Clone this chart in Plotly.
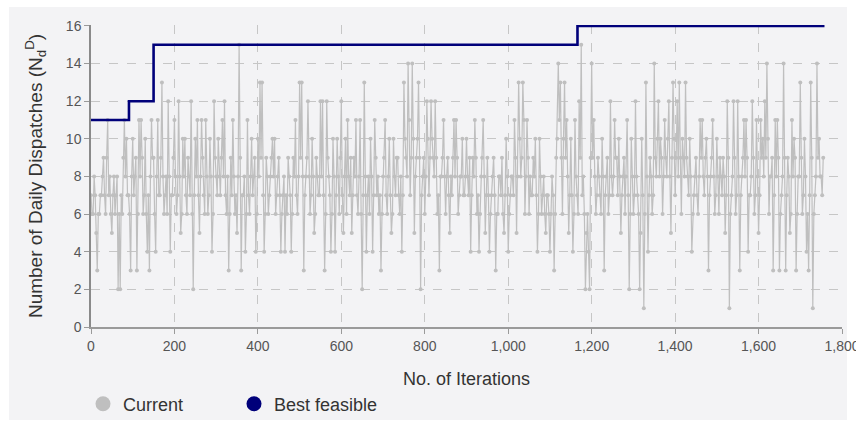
import plotly.graph_objects as go

# Current solution is logged every 2.5 iterations
STEP = 2.5

# Number of daily dispatches of the current solution, one value per log entry
current = [
    7, 6, 6, 8, 7, 5, 3, 6, 6, 7, 7, 8, 9, 7, 6, 9, 11, 7, 8, 6,
    5, 7, 8, 6, 7, 8, 2, 6, 2, 7, 6, 9, 11, 8, 10, 7, 7, 6, 3, 8,
    10, 7, 8, 9, 3, 6, 11, 8, 11, 9, 6, 7, 10, 6, 4, 7, 3, 8, 11, 9,
    9, 6, 4, 8, 11, 7, 7, 9, 13, 8, 6, 7, 8, 6, 12, 8, 4, 7, 7, 9,
    11, 8, 6, 7, 12, 8, 5, 6, 10, 8, 10, 7, 6, 9, 8, 7, 12, 6, 2, 7,
    10, 8, 11, 7, 5, 8, 11, 9, 7, 6, 11, 8, 6, 7, 10, 8, 4, 6, 12, 9,
    8, 7, 10, 8, 7, 9, 11, 8, 12, 7, 6, 8, 3, 6, 9, 7, 11, 8, 6, 7,
    5, 8, 15, 9, 3, 7, 7, 8, 4, 6, 11, 7, 6, 8, 10, 7, 8, 9, 4, 6,
    10, 8, 13, 9, 13, 7, 4, 6, 9, 8, 6, 7, 8, 9, 10, 8, 10, 6, 7, 8,
    9, 7, 4, 6, 7, 8, 4, 7, 6, 9, 8, 7, 4, 6, 9, 8, 11, 7, 6, 8,
    13, 9, 13, 8, 3, 7, 8, 9, 12, 8, 6, 7, 10, 8, 5, 6, 9, 8, 7, 7,
    12, 8, 12, 7, 3, 6, 12, 9, 8, 7, 4, 6, 10, 8, 4, 7, 10, 8, 6, 9,
    12, 7, 5, 8, 10, 6, 11, 8, 7, 9, 5, 7, 9, 8, 11, 7, 6, 8, 11, 6,
    2, 7, 13, 8, 4, 7, 8, 6, 10, 8, 4, 7, 11, 9, 7, 8, 6, 7, 3, 6,
    8, 9, 11, 7, 6, 8, 10, 7, 5, 6, 10, 8, 7, 9, 9, 7, 6, 8, 4, 7,
    13, 10, 9, 8, 14, 11, 7, 9, 14, 10, 5, 8, 9, 10, 13, 9, 2, 7, 8, 9,
    6, 8, 12, 10, 7, 9, 12, 10, 9, 8, 12, 9, 6, 7, 3, 8, 8, 9, 11, 8,
    6, 8, 9, 7, 5, 8, 7, 9, 11, 8, 11, 9, 6, 7, 8, 8, 10, 7, 7, 8,
    10, 8, 7, 9, 4, 7, 9, 8, 11, 9, 6, 7, 4, 6, 8, 9, 11, 8, 5, 7,
    9, 7, 4, 6, 7, 8, 9, 7, 3, 6, 6, 8, 8, 7, 9, 6, 5, 7, 10, 8,
    4, 6, 7, 8, 8, 7, 11, 9, 5, 8, 13, 10, 8, 9, 13, 11, 6, 8, 11, 9,
    6, 8, 7, 7, 9, 8, 10, 7, 4, 6, 10, 8, 6, 7, 8, 6, 5, 7, 7, 6,
    4, 6, 8, 7, 3, 6, 9, 10, 14, 11, 13, 9, 6, 10, 13, 9, 11, 8, 5, 7,
    10, 7, 4, 6, 11, 8, 7, 6, 12, 9, 15, 7, 8, 6, 2, 5, 6, 4, 2, 9,
    14, 9, 11, 8, 6, 7, 9, 8, 7, 6, 10, 8, 3, 7, 8, 9, 6, 7, 12, 8,
    7, 8, 11, 9, 9, 7, 10, 8, 5, 7, 8, 9, 6, 8, 11, 7, 2, 6, 10, 8,
    6, 7, 12, 8, 7, 6, 2, 5, 10, 7, 1, 6, 13, 8, 4, 7, 9, 8, 6, 7,
    14, 9, 8, 10, 12, 8, 10, 9, 6, 8, 11, 9, 8, 10, 12, 8, 5, 9, 13, 10,
    7, 9, 12, 8, 13, 9, 6, 10, 9, 8, 13, 9, 8, 7, 10, 8, 4, 6, 7, 8,
    9, 7, 6, 8, 11, 9, 11, 8, 7, 9, 10, 8, 3, 7, 8, 9, 11, 8, 6, 7,
    10, 8, 6, 9, 8, 7, 9, 8, 5, 7, 12, 9, 1, 6, 7, 8, 12, 9, 6, 7,
    12, 8, 3, 7, 8, 9, 11, 8, 11, 9, 4, 7, 7, 8, 12, 9, 6, 7, 11, 8,
    5, 7, 11, 9, 10, 8, 12, 9, 14, 10, 6, 8, 8, 9, 3, 7, 11, 8, 11, 9,
    3, 6, 7, 8, 14, 9, 3, 7, 9, 8, 5, 6, 11, 8, 10, 9, 3, 6, 8, 8,
    13, 9, 6, 7, 10, 8, 4, 6, 3, 7, 13, 9, 1, 6, 7, 8, 14, 9, 10, 8,
    8, 7, 9,
]
iterations = [i * STEP for i in range(len(current))]

# Best feasible value found so far: iterations where it improves
best_iters = [0, 91, 150, 1166, 1758]
best_vals = [11, 12, 15, 16, 16]

x_ticks = list(range(0, 1801, 200))
y_ticks = list(range(0, 17, 2))

GRAY = "#bfbfbf"
NAVY = "#00007a"
PANEL = "#f3f3f5"
FONT = "Arial, Liberation Sans, sans-serif"

W, H = 856, 424
ML, MR, MT, MB = 91, 14, 25, 97
pw, ph = W - ML - MR, H - MT - MB

fig = go.Figure()

fig.add_trace(go.Scatter(
    x=iterations, y=current, mode="lines+markers", name="Current",
    line=dict(color=GRAY, width=1.2),
    marker=dict(color=GRAY, size=4, symbol="circle"),
    showlegend=False,
))
fig.add_trace(go.Scatter(
    x=best_iters, y=best_vals, mode="lines", name="Best feasible",
    line=dict(color=NAVY, width=2.6, shape="hv"),
    showlegend=False,
))

# Legend entries drawn as large round swatches
for name, col in [("Current", GRAY), ("Best feasible", NAVY)]:
    fig.add_trace(go.Scatter(
        x=[None], y=[None], mode="markers", name=name,
        marker=dict(color=col, size=15, symbol="circle"),
    ))

# Light panel behind the whole chart
fig.add_shape(
    type="rect", xref="paper", yref="paper", layer="below",
    x0=(9 - ML) / pw, x1=(847 - ML) / pw,
    y0=(H - MB - 420) / ph, y1=(H - MB - 7) / ph,
    fillcolor=PANEL, line=dict(width=0),
)

fig.update_layout(
    width=W, height=H,
    margin=dict(l=ML, r=MR, t=MT, b=MB, pad=0, autoexpand=False),
    paper_bgcolor="white", plot_bgcolor=PANEL,
    font=dict(family=FONT, color="#333333"),
    showlegend=True,
    legend=dict(
        orientation="h", x=(83 - ML) / pw, xanchor="left",
        y=(H - MB - 404) / ph, yanchor="middle",
        font=dict(size=18, color="#333333"),
        entrywidth=106, entrywidthmode="pixels",
        bgcolor="rgba(0,0,0,0)", itemsizing="trace",
    ),
)

fig.update_xaxes(
    range=[0, 1800], tickvals=x_ticks, tickformat=",d",
    ticklabeloverflow="allow", automargin=False,
    showgrid=True, gridcolor="#c6c6c6", griddash="dash", gridwidth=1,
    showline=True, linecolor="#9a9a9a", linewidth=2,
    ticks="outside", ticklen=5, tickcolor="#9a9a9a",
    tickfont=dict(size=14, color="#555555"),
    zeroline=False,
    title=dict(text="No. of Iterations", font=dict(size=18, color="#333333"), standoff=20),
)
fig.update_yaxes(
    range=[0, 16.05], tickvals=y_ticks, automargin=False,
    showgrid=True, gridcolor="#c6c6c6", griddash="dash", gridwidth=1,
    showline=True, linecolor="#8a8a8a", linewidth=1.5,
    ticks="outside", ticklen=5, tickcolor="#9a9a9a",
    tickfont=dict(size=14, color="#555555"),
    zeroline=False,
    title=dict(text="Number of Daily Dispatches (N<sub>d</sub><sup>D</sup>)",
               font=dict(size=19, color="#333333"), standoff=18),
)

fig.write_html("out.html")
